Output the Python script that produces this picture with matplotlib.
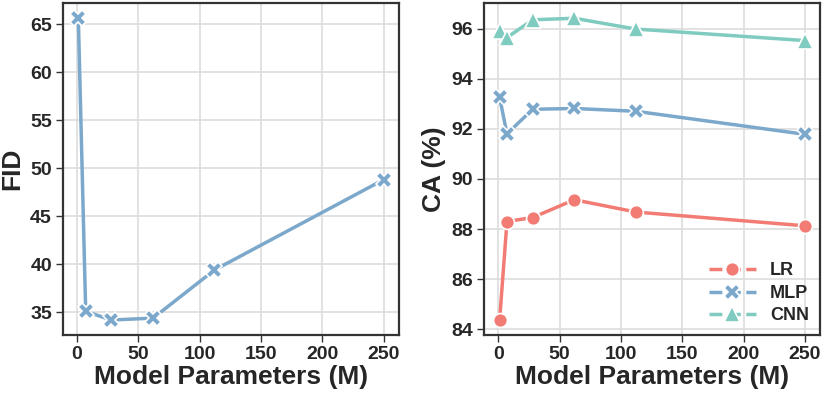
import matplotlib.pyplot as plt
import seaborn as sns

# model sizes (M) and metrics
params = [1, 7, 28, 62, 112, 250]
fid = [65.6, 35.1, 34.2, 34.4, 39.4, 48.8]
ca_lr = [84.37, 88.3, 88.46, 89.17, 88.68, 88.13]
ca_mlp = [93.25, 91.8, 92.78, 92.81, 92.7, 91.78]
ca_cnn = [95.9, 95.64, 96.35, 96.41, 95.98, 95.52]

sns.set_style("whitegrid")
plt.rcParams['font.family'] = ['Liberation Sans', 'DejaVu Sans']
plt.rcParams['font.weight'] = 'bold'

c_lr = '#F27C74'
c_mlp = '#7BA8CB'
c_cnn = '#7FCBC0'

fig, (ax1, ax2) = plt.subplots(1, 2, figsize=(8.3, 3.98), dpi=100)
fig.subplots_adjust(left=0.076, right=0.988, top=0.992, bottom=0.158, wspace=0.255)

ax1.plot(params, fid, color=c_mlp, lw=2.5, marker='X', ms=11, mec='white', mew=1.2)
ax1.set_ylabel('FID', fontsize=19, fontweight='bold', labelpad=4)

ax2.plot(params, ca_lr, color=c_lr, lw=2.5, marker='o', ms=10, mec='white', mew=1.2, label='LR')
ax2.plot(params, ca_mlp, color=c_mlp, lw=2.5, marker='X', ms=11, mec='white', mew=1.2, label='MLP')
ax2.plot(params, ca_cnn, color=c_cnn, lw=2.5, marker='^', ms=11, mec='white', mew=1.2, label='CNN')
ax2.set_ylabel('CA (%)', fontsize=19, fontweight='bold', labelpad=4)
ax2.set_yticks([84, 86, 88, 90, 92, 94, 96])

leg = ax2.legend(loc='lower right', frameon=False, fontsize=13, handlelength=2.6,
                 borderaxespad=0.2, labelspacing=0.3)
for h in leg.legend_handles:
    h.set_linestyle('--')

for ax in (ax1, ax2):
    ax.set_xlabel('Model Parameters (M)', fontsize=19, fontweight='bold', labelpad=1)
    ax.set_xticks([0, 50, 100, 150, 200, 250])
    ax.tick_params(axis='both', labelsize=14, length=5, width=1, color='#333333',
                   direction='out', bottom=True, left=True, pad=3)
    for lab in ax.get_xticklabels() + ax.get_yticklabels():
        lab.set_fontweight('bold')
    for sp in ax.spines.values():
        sp.set_color('#333333')
        sp.set_linewidth(1.6)
    ax.grid(color='#dddddd', lw=1.2)

fig.savefig('out.png', dpi=100)
